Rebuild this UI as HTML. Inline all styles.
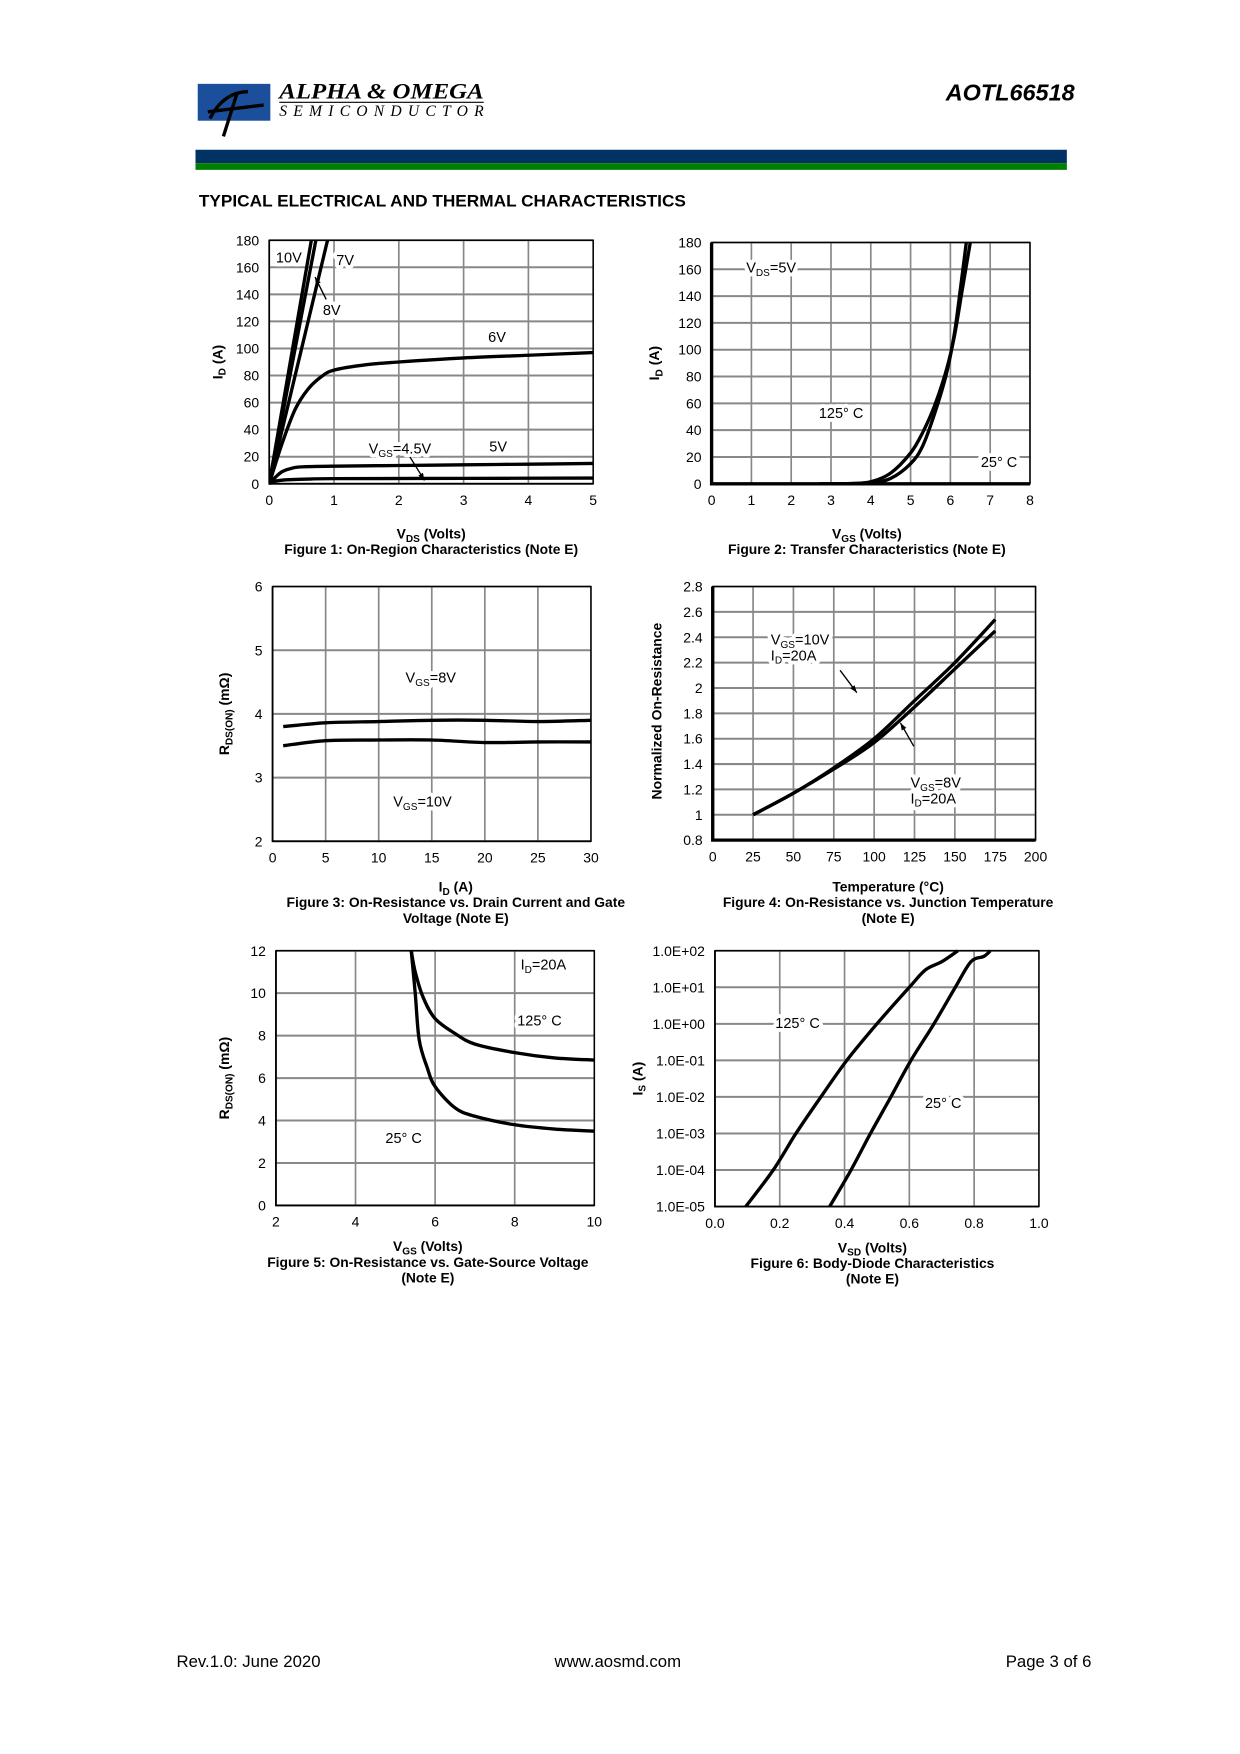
<!DOCTYPE html>
<html><head><meta charset="utf-8"><style>
html,body{margin:0;padding:0;background:#fff;}
svg{display:block;}
text{font-family:"Liberation Sans Narrow","Liberation Sans",Arial,sans-serif;fill:#000;}
.halo{fill:#fff;stroke:#fff;stroke-width:7px;stroke-linejoin:round;}
</style></head><body>
<svg id="page" width="1240" height="1754" viewBox="0 0 1110 1570" xmlns="http://www.w3.org/2000/svg">
<g>
<rect x="177" y="75" width="65" height="33" fill="#1b4f9c"/>
<path d="M188 106 C196 90 208 82 222 82 M200 122 L212 84 M186 100 L236 94" stroke="#000" stroke-width="3" fill="none"/>
<text x="250" y="88" font-style="italic" font-weight="bold" font-size="20" textLength="183" lengthAdjust="spacingAndGlyphs" style="font-family:'Liberation Serif',serif">ALPHA &amp; OMEGA</text>
<line x1="250" y1="91.5" x2="433" y2="91.5" stroke="#000" stroke-width="1"/>
<text x="250" y="104" font-style="italic" font-size="14" textLength="183" lengthAdjust="spacing" style="font-family:'Liberation Serif',serif">SEMICONDUCTOR</text>
</g>
<text x="962" y="90" text-anchor="end" font-size="21" font-weight="bold" font-style="italic" style="font-family:'Liberation Sans',sans-serif">AOTL66518</text>
<rect x="175" y="134" width="780" height="12" fill="#003263"/>
<rect x="175" y="146" width="780" height="6" fill="#008000"/>
<text x="178" y="185" font-size="14.5" font-weight="bold" textLength="436" lengthAdjust="spacingAndGlyphs" style="font-family:'Liberation Sans',sans-serif">TYPICAL ELECTRICAL AND THERMAL CHARACTERISTICS</text>
<g id="charts"></g>
<text x="158" y="1492" font-size="15" style="font-family:'Liberation Sans',sans-serif">Rev.1.0: June 2020</text>
<text x="553" y="1492" text-anchor="middle" font-size="15" style="font-family:'Liberation Sans',sans-serif">www.aosmd.com</text>
<text x="977" y="1492" text-anchor="end" font-size="15" style="font-family:'Liberation Sans',sans-serif">Page 3 of 6</text>
</svg>
<script>
// ---- Figure 1 data ----
const f1XTicks = [0,1,2,3,4,5];
const f1YTicks = [0,20,40,60,80,100,120,140,160,180];
const f1Vgs10 = [[0,0],[0.65,180]];
const f1Vgs8 = [[0,0],[0.72,180]];
const f1Vgs7 = [[0,0],[0.9,180]];
const f1Vgs6 = [[0,0],[0.2,30],[0.4,55],[0.6,70],[0.8,79],[1,84],[1.5,88],[2,90],[3,93],[4,95],[5,97]];
const f1Vgs5 = [[0,0],[0.1,5],[0.2,9],[0.35,11.5],[0.5,12.5],[1,13],[2,13.5],[3,14],[4,14.5],[5,15]];
const f1Vgs45 = [[0,0],[0.1,2],[0.3,3],[0.6,3.5],[1,3.8],[3,4],[5,4.2]];
// ---- Figure 2 data ----
const f2XTicks = [0,1,2,3,4,5,6,7,8];
const f2YTicks = [0,20,40,60,80,100,120,140,160,180];
const f2T125 = [[2.7,0],[3.5,0.2],[4,1.5],[4.5,8],[5,23],[5.3,38],[5.6,58],[5.9,85],[6.1,110],[6.3,145],[6.5,180]];
const f2T25 = [[3.5,0],[4,0.5],[4.5,4],[5,15],[5.3,28],[5.6,52],[5.9,82],[6.1,112],[6.25,145],[6.4,180]];
// ---- Figure 3 data ----
const f3XTicks = [0,5,10,15,20,25,30];
const f3YTicks = [2,3,4,5,6];
const f3Vgs8 = [[1,3.8],[5,3.86],[10,3.88],[15,3.9],[20,3.9],[25,3.88],[30,3.9]];
const f3Vgs10 = [[1,3.5],[5,3.58],[10,3.59],[15,3.59],[20,3.55],[25,3.56],[30,3.56]];
// ---- Figure 4 data ----
const f4XTicks = [0,25,50,75,100,125,150,175,200];
const f4YTicks = [0.8,1,1.2,1.4,1.6,1.8,2,2.2,2.4,2.6,2.8];
const f4Vgs10 = [[25,1],[50,1.17],[75,1.37],[100,1.6],[125,1.9],[150,2.2],[175,2.54]];
const f4Vgs8 = [[25,1],[50,1.17],[75,1.36],[100,1.57],[125,1.85],[150,2.15],[175,2.45]];
// ---- Figure 5 data ----
const f5XTicks = [2,4,6,8,10];
const f5YTicks = [0,2,4,6,8,10,12];
const f5T125 = [[5.4,12],[5.5,11],[5.7,9.8],[6,8.8],[6.5,8.1],[7,7.6],[8,7.2],[9,6.95],[10,6.85]];
const f5T25 = [[5.4,12],[5.5,10],[5.6,7.8],[5.8,6.5],[6,5.6],[6.5,4.6],[7,4.2],[8,3.8],[9,3.6],[10,3.5]];
// ---- Figure 6 data ----
const f6XTicks = [0,0.2,0.4,0.6,0.8,1.0];
const f6YTicks = [1e-5,1e-4,1e-3,1e-2,1e-1,1,10,100];
const f6YTickLabels = ["1.0E-05","1.0E-04","1.0E-03","1.0E-02","1.0E-01","1.0E+00","1.0E+01","1.0E+02"];
const f6T125 = [[0.095,1e-5],[0.18,1e-4],[0.25,1e-3],[0.327,1e-2],[0.407,1e-1],[0.5,1],[0.6,10],[0.65,30],[0.7,50],[0.75,100]];
const f6T25 = [[0.354,1e-5],[0.42,1e-4],[0.48,1e-3],[0.543,1e-2],[0.605,0.1],[0.676,1],[0.742,10],[0.79,50],[0.83,70],[0.85,100]];

const NS = "http://www.w3.org/2000/svg";
const root = document.getElementById('charts');
function mk(tag, parent){ const e=document.createElementNS(NS,tag); parent.appendChild(e); return e; }
function smooth(pts){
  if(pts.length<3) return 'M'+pts.map(p=>p[0].toFixed(2)+' '+p[1].toFixed(2)).join('L');
  let d='M'+pts[0][0].toFixed(2)+' '+pts[0][1].toFixed(2);
  for(let i=0;i<pts.length-1;i++){
    const p0=pts[Math.max(0,i-1)],p1=pts[i],p2=pts[i+1],p3=pts[Math.min(pts.length-1,i+2)];
    const c1=[p1[0]+(p2[0]-p0[0])/6,p1[1]+(p2[1]-p0[1])/6], c2=[p2[0]-(p3[0]-p1[0])/6,p2[1]-(p3[1]-p1[1])/6];
    d+=`C${c1[0].toFixed(2)} ${c1[1].toFixed(2)} ${c2[0].toFixed(2)} ${c2[1].toFixed(2)} ${p2[0].toFixed(2)} ${p2[1].toFixed(2)}`;
  }
  return d;
}

function chart(c){
  const g = mk('g', root);
  
  
  const tx = c.logY ? (v=>Math.log10(v)) : (v=>v);
  const X = v => c.x0 + (v - c.xd[0])/(c.xd[1]-c.xd[0])*(c.x1-c.x0);
  const Y = v => c.y1 - (tx(v) - tx(c.yd[0]))/(tx(c.yd[1])-tx(c.yd[0]))*(c.y1-c.y0);
  c.xTicks.forEach(v=>{
    const l = mk('line', g);
    
    
    l.setAttribute('x1',X(v)); l.setAttribute('x2',X(v)); l.setAttribute('y1',c.y0); l.setAttribute('y2',c.y1);
    l.setAttribute('stroke','#888'); l.setAttribute('stroke-width','1.5');
    const t = mk('text', g);
    
    
    t.setAttribute('x',X(v)); t.setAttribute('y',c.y1+19); t.setAttribute('text-anchor','middle'); t.setAttribute('font-size','12.5');
    t.textContent = c.xFmt ? c.xFmt(v) : String(v);
  });
  c.yTicks.forEach((v,i)=>{
    const l = mk('line', g);
    
    
    l.setAttribute('x1',c.x0); l.setAttribute('x2',c.x1); l.setAttribute('y1',Y(v)); l.setAttribute('y2',Y(v));
    l.setAttribute('stroke','#888'); l.setAttribute('stroke-width','1.8');
    const t = mk('text', g);
    
    
    t.setAttribute('x',c.x0-9); t.setAttribute('y',Y(v)+4.5); t.setAttribute('text-anchor','end'); t.setAttribute('font-size','12.5');
    t.textContent = c.yLabels ? c.yLabels[i] : String(v);
  });
  const fr = mk('rect', g);
  
  
  fr.setAttribute('x',c.x0); fr.setAttribute('y',c.y0); fr.setAttribute('width',c.x1-c.x0); fr.setAttribute('height',c.y1-c.y0);
  fr.setAttribute('fill','none'); fr.setAttribute('stroke','#000'); fr.setAttribute('stroke-width','1.3');
  const ax = mk('path', g);
  
  
  ax.setAttribute('d',`M${c.x0} ${c.y0} V${c.y1} H${c.x1}`); ax.setAttribute('stroke','#000'); ax.setAttribute('stroke-width', c.thickX?'3':'1.5'); ax.setAttribute('fill','none');
  const cp = mk('clipPath', g); cp.setAttribute('id','clip-'+c.name);
  const cr = mk('rect', cp); cr.setAttribute('x',c.x0); cr.setAttribute('y',c.y0-1); cr.setAttribute('width',c.x1-c.x0+2); cr.setAttribute('height',c.y1-c.y0+2);
  c.series.forEach(s=>{
    const p = mk('path', g);
    
    
    p.setAttribute('d', smooth(s.data.map(d=>[X(d[0]),Y(d[1])])));
    p.setAttribute('fill','none'); p.setAttribute('stroke','#000'); p.setAttribute('stroke-width','3');
    p.setAttribute('stroke-linejoin','round'); p.setAttribute('clip-path','url(#clip-'+c.name+')');
  });
  c.labels.forEach(L=>{
    const h = mk('text', g);
    
    
    h.setAttribute('class','halo'); h.setAttribute('x',L.x); h.setAttribute('y',L.y); h.setAttribute('font-size','13');
    h.innerHTML = L.html;
  });
  c.labels.forEach(L=>{
    const t = mk('text', g);
    
    
    t.setAttribute('x',L.x); t.setAttribute('y',L.y); t.setAttribute('font-size','13');
    t.innerHTML = L.html;
  });
  (c.arrows||[]).forEach(a=>{
    const l = mk('line', g);
    
    
    l.setAttribute('x1',a[0]); l.setAttribute('y1',a[1]); l.setAttribute('x2',a[2]); l.setAttribute('y2',a[3]);
    l.setAttribute('stroke','#000'); l.setAttribute('stroke-width','1.2');
    const ang = Math.atan2(a[3]-a[1],a[2]-a[0]);
    const h = mk('path', g);
    
    
    const p1=[a[2]-7*Math.cos(ang-0.35),a[3]-7*Math.sin(ang-0.35)], p2=[a[2]-7*Math.cos(ang+0.35),a[3]-7*Math.sin(ang+0.35)];
    h.setAttribute('d',`M${a[2]} ${a[3]}L${p1[0]} ${p1[1]}L${p2[0]} ${p2[1]}Z`);
  });
  const yt = mk('text', g);
  
  
  yt.setAttribute('transform',`translate(${c.ytx},${(c.y0+c.y1)/2+(c.ytdy||0)}) rotate(-90)`); yt.setAttribute('text-anchor','middle');
  yt.setAttribute('font-size','12.5'); yt.setAttribute('font-weight','bold'); yt.setAttribute('style',"font-family:'Liberation Sans',sans-serif");
  yt.innerHTML = c.ytitle;
  const cx = c.capX || (c.x0+c.x1)/2;
  c.caption.forEach((line,i)=>{
    const t = mk('text', g);
    
    
    t.setAttribute('x',cx); t.setAttribute('y',c.capY+i*14); t.setAttribute('text-anchor','middle');
    t.setAttribute('font-size','12.4'); t.setAttribute('font-weight','bold');
    t.innerHTML = line;
  });
}
const sub = s => `<tspan font-size="9" dy="3">${s}</tspan><tspan dy="-3">`;
chart({name:'figure-1-on-region', x0:241,x1:531,y0:215,y1:433, xd:[0,5], yd:[0,180], xTicks:f1XTicks, yTicks:f1YTicks,
  series:[{name:'curve-vgs-10v',data:f1Vgs10},{name:'curve-vgs-8v',data:f1Vgs8},{name:'curve-vgs-7v',data:f1Vgs7},{name:'curve-vgs-6v',data:f1Vgs6},{name:'curve-vgs-5v',data:f1Vgs5},{name:'curve-vgs-4-5v',data:f1Vgs45}],
  labels:[{name:'label-10v',x:247,y:235,html:'10V'},{name:'label-7v',x:301,y:237,html:'7V'},{name:'label-8v',x:289,y:282,html:'8V'},{name:'label-6v',x:437,y:306,html:'6V'},{name:'label-4-5v',x:330,y:406,html:'V'+sub('GS')+'=4.5V</tspan>'},{name:'label-5v',x:438,y:404,html:'5V'}],
  arrows:[[292,268,282,248],[367,409,380,430]],
  ytx:199, ytitle:'I'+sub('D')+' (A)</tspan>', capY:482, capX:386, caption:['V'+sub('DS')+' (Volts)</tspan>','Figure 1: On-Region Characteristics (Note E)']});
chart({name:'figure-2-transfer', x0:637,x1:922,y0:217,y1:433, xd:[0,8], yd:[0,180], xTicks:f2XTicks, yTicks:f2YTicks, thickX:true,
  series:[{name:'curve-125c',data:f2T125},{name:'curve-25c',data:f2T25}],
  labels:[{name:'label-vds-5v',x:668,y:244,html:'V'+sub('DS')+'=5V</tspan>'},{name:'label-125c',x:733,y:374,html:'125° C'},{name:'label-25c',x:878,y:418,html:'25° C'}],
  ytx:590, ytitle:'I'+sub('D')+' (A)</tspan>', capY:482, capX:776, caption:['V'+sub('GS')+' (Volts)</tspan>','Figure 2: Transfer Characteristics (Note E)']});
chart({name:'figure-3-rdson-vs-id', x0:244,x1:529,y0:525,y1:753, xd:[0,30], yd:[2,6], xTicks:f3XTicks, yTicks:f3YTicks,
  series:[{name:'curve-vgs-8v',data:f3Vgs8},{name:'curve-vgs-10v',data:f3Vgs10}],
  labels:[{name:'label-vgs-8v',x:363,y:611,html:'V'+sub('GS')+'=8V</tspan>'},{name:'label-vgs-10v',x:352,y:722,html:'V'+sub('GS')+'=10V</tspan>'}],
  ytx:205, ytitle:'R'+sub('DS(ON)')+' (mΩ)</tspan>', capY:798, capX:408, caption:['I'+sub('D')+' (A)</tspan>','Figure 3: On-Resistance vs. Drain Current and Gate','Voltage (Note E)']});
chart({name:'figure-4-rdson-vs-temp', x0:638,x1:927,y0:525,y1:752, xd:[0,200], yd:[0.8,2.8], xTicks:f4XTicks, yTicks:f4YTicks, thickX:true,
  series:[{name:'curve-vgs-10v',data:f4Vgs10},{name:'curve-vgs-8v',data:f4Vgs8}],
  labels:[{name:'label-vgs-10v',x:690,y:577,html:'V'+sub('GS')+'=10V</tspan>'},{name:'label-id-20a-a',x:690,y:591,html:'I'+sub('D')+'=20A</tspan>'},{name:'label-vgs-8v',x:815,y:705,html:'V'+sub('GS')+'=8V</tspan>'},{name:'label-id-20a-b',x:815,y:719,html:'I'+sub('D')+'=20A</tspan>'}],
  arrows:[[752,600,767,620],[818,668,806,647]],
  ytx:592, ytitle:'Normalized On-Resistance', ytdy:-2, capY:798, capX:795, caption:['Temperature (°C)','Figure 4: On-Resistance vs. Junction Temperature','(Note E)']});
chart({name:'figure-5-rdson-vs-vgs', x0:247,x1:532,y0:851,y1:1079, xd:[2,10], yd:[0,12], xTicks:f5XTicks, yTicks:f5YTicks,
  series:[{name:'curve-125c',data:f5T125},{name:'curve-25c',data:f5T25}],
  labels:[{name:'label-id-20a',x:466,y:868,html:'I'+sub('D')+'=20A</tspan>'},{name:'label-125c',x:463,y:918,html:'125° C'},{name:'label-25c',x:345,y:1023,html:'25° C'}],
  ytx:205, ytitle:'R'+sub('DS(ON)')+' (mΩ)</tspan>', capY:1120, capX:383, caption:['V'+sub('GS')+' (Volts)</tspan>','Figure 5: On-Resistance vs. Gate-Source Voltage','(Note E)']});
chart({name:'figure-6-body-diode', x0:640,x1:930,y0:851,y1:1080, xd:[0,1], yd:[1e-5,100], logY:true, xTicks:f6XTicks, yTicks:f6YTicks, yLabels:f6YTickLabels, xFmt:v=>v.toFixed(1),
  series:[{name:'curve-125c',data:f6T125},{name:'curve-25c',data:f6T25}],
  labels:[{name:'label-125c',x:694,y:920,html:'125° C'},{name:'label-25c',x:828,y:992,html:'25° C'}],
  ytx:575, ytitle:'I'+sub('S')+' (A)</tspan>', capY:1121, capX:781, caption:['V'+sub('SD')+' (Volts)</tspan>','Figure 6: Body-Diode Characteristics','(Note E)']});
</script>
</body></html>
